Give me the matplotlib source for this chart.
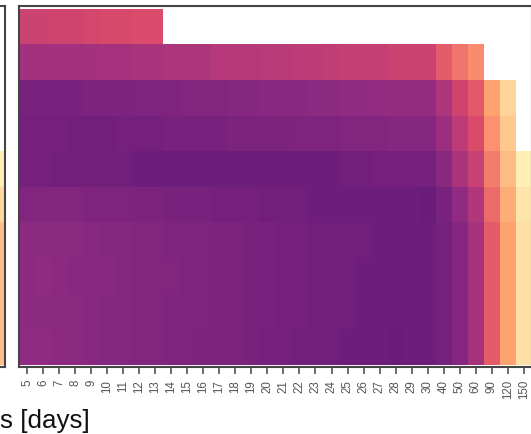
import numpy as np
import matplotlib
matplotlib.use('Agg')
import matplotlib.pyplot as plt
from matplotlib.colors import LinearSegmentedColormap

plt.rcParams['font.family'] = ['Liberation Sans', 'DejaVu Sans']

# Durations on the x axis
durations = ['5', '6', '7', '8', '9', '10', '11', '12', '13', '14', '15', '16', '17', '18', '19', '20',
             '21', '22', '23', '24', '25', '26', '27', '28', '29', '30', '40', '50', '60', '90', '120', '150']
nan = np.nan

# Colour level of each cell
row0 = [.56, .56, .57, .57, .58, .59, .59, .60, .60] + [nan] * 23
row1 = [.45, .45, .45, .45, .45, .46, .46, .47, .47, .48, .48, .48, .50, .50, .50, .51, .51, .52, .52, .53,
        .54, .54, .54, .56, .56, .56, .64, .69, .74, nan, nan, nan]
row2 = [.33, .33, .33, .33, .34, .34, .34, .35, .35, .35, .36, .36, .36, .37, .37, .38, .38, .38, .39, .39,
        .40, .40, .41, .41, .41, .41, .48, .57, .63, .79, .91, nan]
row3 = [.32, .32, .32, .31, .31, .31, .32, .32, .32, .33, .33, .33, .33, .34, .34, .34, .34, .35, .35, .35,
        .36, .36, .36, .37, .37, .37, .43, .52, .60, .75, .88, nan]
row4 = [.32, .32, .31, .31, .31, .31, .31, .30, .30, .30, .30, .30, .30, .30, .30, .30, .30, .30, .30, .30,
        .31, .31, .32, .32, .32, .32, .38, .47, .55, .71, .85, .98]
row5 = [.36, .36, .36, .36, .35, .35, .35, .34, .34, .33, .33, .33, .32, .32, .32, .31, .31, .31, .30, .30,
        .30, .30, .30, .30, .30, .29, .33, .40, .49, .67, .82, .95]
row6 = [.39, .39, .39, .39, .38, .37, .37, .36, .36, .35, .35, .35, .34, .34, .33, .33, .32, .32, .31, .31,
        .31, .31, .30, .30, .30, .30, .32, .37, .46, .64, .79, .94]
row7 = [.39, .40, .39, .38, .38, .38, .37, .36, .36, .36, .35, .35, .34, .34, .33, .33, .32, .32, .31, .31,
        .31, .30, .30, .30, .30, .30, .32, .37, .46, .64, .79, .94]
row8 = [.39, .39, .39, .39, .38, .37, .37, .36, .36, .35, .35, .35, .34, .34, .33, .33, .32, .32, .31, .31,
        .31, .30, .30, .30, .30, .30, .32, .37, .46, .64, .79, .94]
row9 = [.40, .40, .39, .39, .38, .37, .37, .36, .36, .35, .35, .34, .34, .34, .33, .32, .32, .31, .31, .31,
        .30, .30, .30, .29, .30, .30, .32, .37, .46, .64, .79, .94]
levels = np.array([row0, row1, row2, row3, row4, row5, row6, row7, row8, row9])

# The last column of the panel cut off on the left
left_levels = [nan, nan, nan, nan, .98, .92, .86, .86, .86, .86]

# magma-like ramp, adjusted to the reference's purples
ramp = LinearSegmentedColormap.from_list('ramp', [
    (0.0, '#000004'), (0.29, '#6a1c7a'), (0.40, '#902a82'), (0.50, '#b5387a'),
    (0.60, '#da4a6a'), (0.66, '#e96669'), (0.75, '#fb9070'), (0.80, '#ffa570'),
    (0.90, '#fed096'), (1.0, '#fdf6bc')])

W, H = 531, 435
SPINE = '#454545'


def px_axes(left, top, right, bottom):
    return fig.add_axes([left / W, 1 - bottom / H, (right - left) / W, (bottom - top) / H])


fig = plt.figure(figsize=(W / 100, H / 100), dpi=100)
row_h = 35.6
cell_w = 16.0

# main panel
ax = px_axes(19, 6.5, 532, 368)
ax.pcolormesh(np.arange(33) - 0.5, np.arange(11) - 0.5, np.ma.masked_invalid(levels),
              cmap=ramp, vmin=0, vmax=1, linewidth=0, rasterized=True)
ax.set_xlim(-0.5 - 0.2 / cell_w, 31.5 + 0.3 / cell_w)
ax.set_ylim(9.5 + 2.3 / row_h, -0.5 - 3.2 / row_h)
ax.set_yticks([])
ax.set_xticks(np.arange(32))
ax.set_xticklabels(durations, rotation=90, fontsize=8.3, color='#555555')
ax.tick_params(axis='x', length=5, width=1.1, color=SPINE, pad=3.5)
for s in ax.spines.values():
    s.set_color(SPINE)
    s.set_linewidth(1.5)

# neighbouring panel, almost entirely off the figure
ax2 = px_axes(-40, 6.5, 5, 368)
ax2.pcolormesh([-0.5, 0.5], np.arange(11) - 0.5, np.ma.masked_invalid(np.array(left_levels).reshape(-1, 1)),
               cmap=ramp, vmin=0, vmax=1, linewidth=0, rasterized=True)
ax2.set_xlim(0.5 - 44.5 / cell_w, 0.5 + 1 / cell_w)
ax2.set_ylim(9.5 + 2.3 / row_h, -0.5 - 3.2 / row_h)
ax2.set_yticks([])
ax2.set_xticks([0])
ax2.set_xticklabels(['150'], rotation=90, fontsize=8.3, color='#bbbbbb')
ax2.tick_params(axis='x', length=5, width=1.1, color=SPINE, pad=3.5)
for s in ax2.spines.values():
    s.set_color(SPINE)
    s.set_linewidth(1.5)

fig.text(90 / W, 1 - 428 / H, 's [days]', ha='right', va='baseline', fontsize=18.7, color='#111111')

fig.savefig('out.png', dpi=100)
